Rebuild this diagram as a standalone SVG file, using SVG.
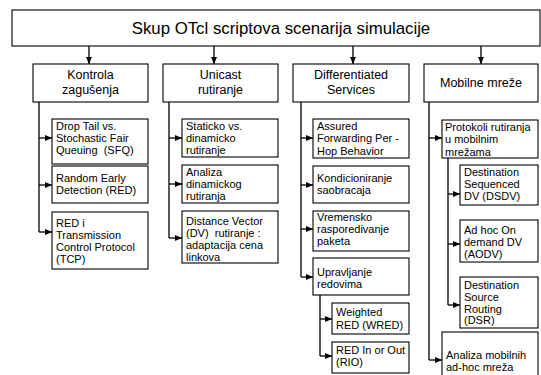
<svg xmlns="http://www.w3.org/2000/svg" width="541" height="375" viewBox="0 0 541 375">
<style>
rect{fill:#fff;stroke:#000;stroke-width:1.1}
text{font-family:"Liberation Sans",Arial,sans-serif;fill:#000}
.t0{font-size:16.8px;text-anchor:middle}
.t1{font-size:12.5px;text-anchor:middle}
.t2{font-size:11px}
.c{fill:none;stroke:#000;stroke-width:1.3}
</style>
<defs>
<marker id="ah" markerWidth="7" markerHeight="6" refX="7" refY="3" orient="auto" markerUnits="userSpaceOnUse"><path d="M0,0 L7,3 L0,6 z" fill="#000"/></marker>
</defs>
<rect x="0" y="0" width="541" height="375" style="stroke:none"/>
<g id="connectors">
<path class="c" d="M89,46 V64" marker-end="url(#ah)"/>
<path class="c" d="M214,46 V64" marker-end="url(#ah)"/>
<path class="c" d="M353,46 V64" marker-end="url(#ah)"/>
<path class="c" d="M481,46 V64" marker-end="url(#ah)"/>
<path class="c" d="M39,102 V232"/>
<path class="c" d="M39,138 H52" marker-end="url(#ah)"/>
<path class="c" d="M39,185 H52" marker-end="url(#ah)"/>
<path class="c" d="M39,232 H52" marker-end="url(#ah)"/>
<path class="c" d="M169,102 V238"/>
<path class="c" d="M169,138 H182" marker-end="url(#ah)"/>
<path class="c" d="M169,184 H182" marker-end="url(#ah)"/>
<path class="c" d="M169,238 H182" marker-end="url(#ah)"/>
<path class="c" d="M301,102 V277"/>
<path class="c" d="M301,138 H313" marker-end="url(#ah)"/>
<path class="c" d="M301,185 H313" marker-end="url(#ah)"/>
<path class="c" d="M301,229 H313" marker-end="url(#ah)"/>
<path class="c" d="M301,277 H313" marker-end="url(#ah)"/>
<path class="c" d="M320,295 V356"/>
<path class="c" d="M320,319 H332" marker-end="url(#ah)"/>
<path class="c" d="M320,356 H332" marker-end="url(#ah)"/>
<path class="c" d="M429,102 V360"/>
<path class="c" d="M429,138 H442" marker-end="url(#ah)"/>
<path class="c" d="M429,360 H442" marker-end="url(#ah)"/>
<path class="c" d="M448,158 V305"/>
<path class="c" d="M448,194 H460" marker-end="url(#ah)"/>
<path class="c" d="M448,244 H460" marker-end="url(#ah)"/>
<path class="c" d="M448,305 H460" marker-end="url(#ah)"/>
</g>
<g id="root"><rect x="12" y="10" width="528" height="36"/><text class="t0" x="281" y="34">Skup OTcl scriptova scenarija simulacije</text></g>
<g id="kontrola"><rect x="33" y="64" width="115" height="38"/><text class="t1" x="90.5" y="79">Kontrola</text><text class="t1" x="90.5" y="93.5">zagušenja</text></g>
<g id="unicast"><rect x="163" y="64" width="115" height="38"/><text class="t1" x="220.5" y="79">Unicast</text><text class="t1" x="220.5" y="93.5">rutiranje</text></g>
<g id="diffserv"><rect x="293" y="64" width="116" height="38"/><text class="t1" x="351" y="79">Differentiated</text><text class="t1" x="351" y="93.5">Services</text></g>
<g id="mobilne"><rect x="424" y="64" width="114" height="38"/><text class="t1" x="481" y="87">Mobilne mreže</text></g>
<g id="droptail"><rect x="52" y="119" width="96" height="45"/><text class="t2" x="56" y="129.5">Drop Tail vs.</text><text class="t2" x="56" y="141.8">Stochastic Fair</text><text class="t2" x="56" y="154.1" xml:space="preserve">Queuing  (SFQ)</text></g>
<g id="red"><rect x="52" y="166" width="96" height="37"/><text class="t2" x="56" y="181.5">Random Early</text><text class="t2" x="56" y="194">Detection (RED)</text></g>
<g id="redtcp"><rect x="52" y="212" width="96" height="57"/><text class="t2" x="56" y="226.5">RED i</text><text class="t2" x="56" y="238.8">Transmission</text><text class="t2" x="56" y="251.1">Control Protocol</text><text class="t2" x="56" y="263.4">(TCP)</text></g>
<g id="staticko"><rect x="182" y="119" width="96" height="38"/><text class="t2" x="186" y="130">Staticko vs.</text><text class="t2" x="186" y="142.2">dinamicko</text><text class="t2" x="186" y="154.4">rutiranje</text></g>
<g id="analizadin"><rect x="182" y="165" width="96" height="38"/><text class="t2" x="186" y="175.5">Analiza</text><text class="t2" x="186" y="187.7">dinamickog</text><text class="t2" x="186" y="199.9">rutiranja</text></g>
<g id="dv"><rect x="182" y="211" width="96" height="52"/><text class="t2" x="186" y="224.5">Distance Vector</text><text class="t2" x="186" y="236.5" xml:space="preserve">(DV)  rutiranje :</text><text class="t2" x="186" y="248.5">adaptacija cena</text><text class="t2" x="186" y="260.5">linkova</text></g>
<g id="assured"><rect x="313" y="119" width="96" height="39"/><text class="t2" x="317" y="130">Assured</text><text class="t2" x="317" y="142.3">Forwarding Per -</text><text class="t2" x="317" y="154.6">Hop Behavior</text></g>
<g id="kondicioniranje"><rect x="313" y="166" width="96" height="37"/><text class="t2" x="317" y="181.5">Kondicioniranje</text><text class="t2" x="317" y="194">saobracaja</text></g>
<g id="vremensko"><rect x="313" y="211" width="96" height="40"/><text class="t2" x="317" y="221">Vremensko</text><text class="t2" x="317" y="233">rasporedivanje</text><text class="t2" x="317" y="245">paketa</text></g>
<g id="upravljanje"><rect x="313" y="258" width="96" height="37"/><text class="t2" x="317" y="275.5">Upravljanje</text><text class="t2" x="317" y="288">redovima</text></g>
<g id="wred"><rect x="332" y="303" width="77" height="31"/><text class="t2" x="336" y="316">Weighted</text><text class="t2" x="336" y="328.5">RED (WRED)</text></g>
<g id="rio"><rect x="332" y="342" width="77" height="31"/><text class="t2" x="336" y="354">RED In or Out</text><text class="t2" x="336" y="366">(RIO)</text></g>
<g id="protokoli"><rect x="442" y="120" width="96" height="38"/><text class="t2" x="445" y="131">Protokoli rutiranja</text><text class="t2" x="445" y="143.3">u mobilnim</text><text class="t2" x="445" y="155.6">mrežama</text></g>
<g id="dsdv"><rect x="460" y="165" width="78" height="40"/><text class="t2" x="464" y="176">Destination</text><text class="t2" x="464" y="188">Sequenced</text><text class="t2" x="464" y="200">DV (DSDV)</text></g>
<g id="aodv"><rect x="460" y="220" width="78" height="42"/><text class="t2" x="464" y="233.5">Ad hoc On</text><text class="t2" x="464" y="245.5">demand DV</text><text class="t2" x="464" y="257.5">(AODV)</text></g>
<g id="dsr"><rect x="460" y="277" width="78" height="51"/><text class="t2" x="464" y="289">Destination</text><text class="t2" x="464" y="301">Source</text><text class="t2" x="464" y="312.5">Routing</text><text class="t2" x="464" y="324">(DSR)</text></g>
<g id="analizamob"><rect x="442" y="332" width="96" height="50"/><text class="t2" x="446" y="359">Analiza mobilnih</text><text class="t2" x="446" y="371">ad-hoc mreža</text></g>
</svg>
